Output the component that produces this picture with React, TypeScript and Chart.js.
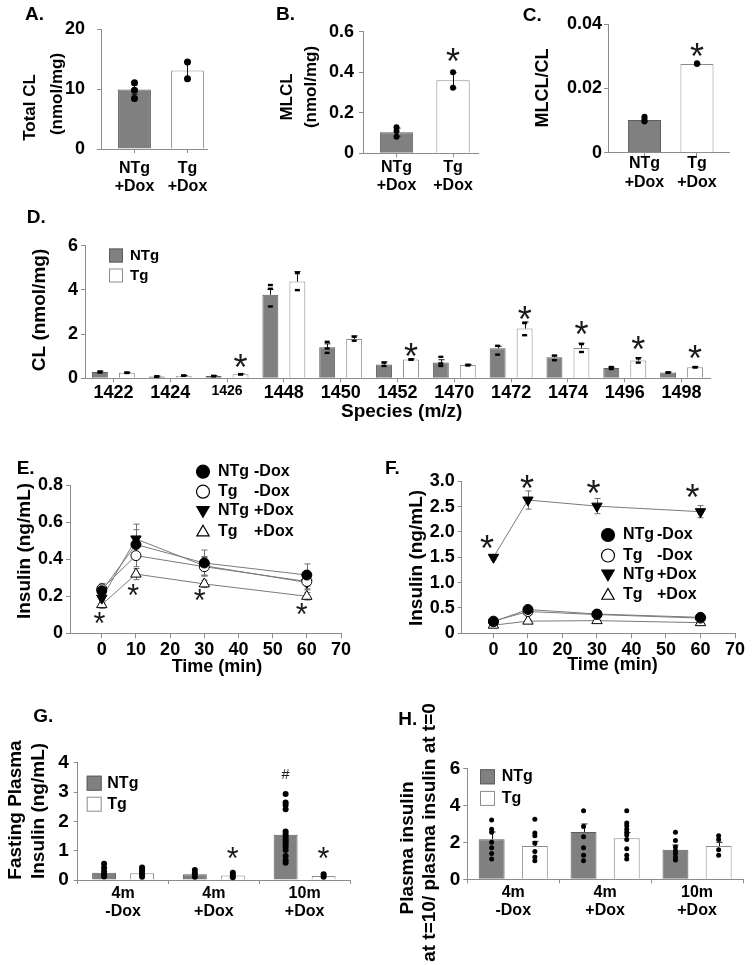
import React, { useEffect, useRef } from 'react';
import { Chart, registerables } from 'chart.js';

Chart.register(...registerables);

const FONT = "'Liberation Sans', Arial, Helvetica, sans-serif";
const AXIS = '#8c8c8c';
const NTG_FILL = '#808080';
const NTG_EDGE = '#5e5e5e';
const TG_FILL = '#ffffff';
const TG_EDGE = '#8c8c8c';

// ===== A–C: cardiolipin =====
const groupLabelsABC = [['NTg', '+Dox'], ['Tg', '+Dox']];

const totalCL = [9.9, 13.1];
const totalCLSem = [0.8, 1.4];
const totalCLPoints = [[11.05, 9.8, 8.4], [14.5, 11.7]];
const ticksA = [0, 10, 20];
const tickLabelsA = ['0', '10', '20'];

const mlcl = [0.104, 0.36];
const mlclSem = [0.02, 0.038];
const mlclPoints = [[0.128, 0.11, 0.082], [0.4, 0.324]];
const ticksB = [0, 0.2, 0.4, 0.6];
const tickLabelsB = ['0', '0.2', '0.4', '0.6'];
const starB = 0.485;

const mlclRatio = [0.0102, 0.0276];
const mlclRatioSem = [0.0006, 0.0002];
const mlclRatioPoints = [[0.0112, 0.0103, 0.0097], [0.0278, 0.0276]];
const ticksC = [0, 0.02, 0.04];
const tickLabelsC = ['0', '0.02', '0.04'];
const starC = 0.0319;

// ===== D: CL species =====
const species = ['1422', '1424', '1426', '1448', '1450', '1452', '1470', '1472', '1474', '1496', '1498'];
const clNTg = [0.28, 0.08, 0.1, 3.78, 1.4, 0.63, 0.71, 1.36, 0.95, 0.47, 0.26];
const clTg = [0.25, 0.12, 0.18, 4.38, 1.78, 0.85, 0.6, 2.25, 1.37, 0.8, 0.5];
const clNTgSem = [0.05, 0.02, 0.02, 0.24, 0.16, 0.11, 0.13, 0.09, 0.07, 0.03, 0.02];
const clTgSem = [0.02, 0.01, 0.02, 0.45, 0.14, 0.03, 0.03, 0.3, 0.22, 0.14, 0.03];
const clNTgPoints = [[0.3, 0.26], [0.09, 0.07], [0.11, 0.09], [4.22, 4.05, 3.25], [1.65, 1.35, 1.15], [0.71, 0.56], [0.97, 0.67, 0.56], [1.47, 1.07], [1.03, 0.82], [0.51, 0.42], [0.27, 0.25]];
const clTgPoints = [[0.26, 0.24], [0.13, 0.11], [0.19, 0.17], [3.99, 4.76], [1.7, 1.88], [0.86, 0.84], [0.61, 0.58], [1.95, 2.5], [1.19, 1.55], [0.71, 0.9], [0.51, 0.49]];
const starIdxD = [2, 5, 7, 8, 9, 10];
const starYD = [0.77, 1.27, 2.96, 2.28, 1.6, 1.17];
const ticksD = [0, 2, 4, 6];
const tickLabelsD = ['0', '2', '4', '6'];

// ===== E / F: insulin time course =====
const times = [0, 10, 30, 60];
const timeTicks = [0, 10, 20, 30, 40, 50, 60, 70];
const timeTickLabels = ['0', '10', '20', '30', '40', '50', '60', '70'];
const legendGroups = ['NTg', 'Tg', 'NTg', 'Tg'];
const legendDox = ['-Dox', '-Dox', '+Dox', '+Dox'];

const eNTgMinus = [0.23, 0.48, 0.38, 0.315];
const eTgMinus = [0.24, 0.42, 0.36, 0.28];
const eNTgPlus = [0.19, 0.51, 0.365, 0.275];
const eTgPlus = [0.155, 0.32, 0.267, 0.2];
const eNTgMinusSem = [0.03, 0.08, 0.07, 0.06];
const eTgMinusSem = [0.03, 0.06, 0.05, 0.04];
const eNTgPlusSem = [0.03, 0.08, 0.05, 0.04];
const eTgPlusSem = [0.02, 0.03, 0.02, 0.02];
const ticksE = [0, 0.2, 0.4, 0.6, 0.8];
const tickLabelsE = ['0', '0.2', '0.4', '0.6', '0.8'];
const starXE = [-0.7, 9.2, 28.7, 58.5];
const starYE = [0.081, 0.234, 0.207, 0.13];

const fNTgMinus = [0.23, 0.47, 0.38, 0.315];
const fTgMinus = [0.24, 0.43, 0.37, 0.3];
const fNTgPlus = [1.5, 2.63, 2.51, 2.4];
const fTgPlus = [0.16, 0.24, 0.25, 0.21];
const fNTgMinusSem = [0.03, 0.04, 0.03, 0.03];
const fTgMinusSem = [0.03, 0.04, 0.03, 0.03];
const fNTgPlusSem = [0.05, 0.18, 0.15, 0.12];
const fTgPlusSem = [0.02, 0.03, 0.03, 0.02];
const ticksF = [0, 0.5, 1, 1.5, 2, 2.5, 3];
const tickLabelsF = ['0', '0.5', '1.0', '1.5', '2.0', '2.5', '3.0'];
const starXF = [-1.9, 9.7, 29, 57.7];
const starYF = [1.81, 2.99, 2.89, 2.81];

// ===== G / H =====
const groupsGH = [['4m', '-Dox'], ['4m', '+Dox'], ['10m', '+Dox']];
const fastNTg = [0.25, 0.2, 1.54];
const fastTg = [0.23, 0.15, 0.14];
const fastNTgPoints = [[0.55, 0.42, 0.3, 0.2, 0.12], [0.34, 0.23, 0.11], [2.93, 2.64, 2.56, 2.41, 1.65, 1.57, 1.48, 1.39, 1.31, 1.23, 1.14, 1.02, 0.82, 0.68, 0.59]];
const fastTgPoints = [[0.43, 0.36, 0.28, 0.2, 0.11], [0.25, 0.17, 0.09], [0.2, 0.11]];
const ticksG = [0, 1, 2, 3, 4];
const tickLabelsG = ['0', '1', '2', '3', '4'];
const starYG = [0.93, 0.93];
const hashYG = 3.6;

const ratioNTg = [2.16, 2.56, 1.6];
const ratioTg = [1.8, 2.22, 1.8];
const ratioNTgSem = [0.4, 0.43, 0.25];
const ratioTgSem = [0.25, 0.3, 0.2];
const ratioNTgPoints = [[3.2, 2.7, 2.55, 2.0, 1.7, 1.4, 1.1], [3.7, 2.85, 2.3, 1.7, 1.3, 1.0], [2.55, 2.1, 1.75, 1.55, 1.4, 1.2, 1.05]];
const ratioTgPoints = [[3.25, 2.5, 2.35, 1.95, 1.5, 1.2, 1.0], [3.7, 3.05, 2.9, 2.7, 2.55, 2.4, 2.15, 1.65, 1.3, 1.1], [2.35, 2.15, 1.6, 1.3]];
const ticksH = [0, 2, 4, 6];
const tickLabelsH = ['0', '2', '4', '6'];

// ===== helpers =====
type Box = [number, number, number, number];
type Txt = { t: string; x: number; y: number; size: number; rot?: boolean; align?: CanvasTextAlign };
type Mark = { ds?: number; i?: number; x?: number; y: number; t: string; h: number };
type Legend = { kind: 'bar' | 'point'; x: number; rows: number[]; textX: number; col2X?: number; size: number; mark: number; parts?: string[][] };
type Extra = { box: Box; texts: Txt[]; marks?: Mark[]; legend?: Legend; errAfter?: boolean };

const val = (d: any) => (typeof d === 'number' ? d : d.y);

function drawErr(chart: any) {
  const ctx = chart.ctx;
  const ys = chart.scales.y;
  chart.data.datasets.forEach((ds: any, d: number) => {
    if (!ds.err) return;
    const meta = chart.getDatasetMeta(d);
    ctx.save();
    ctx.strokeStyle = ds.errColor || '#000';
    ctx.lineWidth = 1;
    meta.data.forEach((el: any, i: number) => {
      const e = ds.err[i];
      if (e == null) return;
      const v = val(ds.data[i]);
      const both = ds.errMode === 'both';
      const hi = ys.getPixelForValue(v + e);
      const lo = ys.getPixelForValue(both ? v - e : v);
      const x = Math.round(el.x) + 0.5;
      const cw = ds.errCap ?? 3;
      ctx.beginPath();
      ctx.moveTo(x, lo);
      ctx.lineTo(x, hi);
      ctx.moveTo(x - cw, hi);
      ctx.lineTo(x + cw, hi);
      if (both) {
        ctx.moveTo(x - cw, lo);
        ctx.lineTo(x + cw, lo);
      }
      ctx.stroke();
    });
    ctx.restore();
  });
}

function drawDots(chart: any) {
  const ctx = chart.ctx;
  const ys = chart.scales.y;
  chart.data.datasets.forEach((ds: any, d: number) => {
    if (!ds.dots) return;
    const meta = chart.getDatasetMeta(d);
    ctx.save();
    ctx.fillStyle = '#000';
    ds.dots.forEach((arr: number[], i: number) => {
      const el = meta.data[i];
      if (!el) return;
      arr.forEach((v) => {
        const y = ys.getPixelForValue(v);
        if (ds.dotShape === 'dash') {
          ctx.fillRect(el.x - 2.5, y - 1.2, 5, 2.4);
        } else {
          ctx.beginPath();
          ctx.arc(el.x, y, ds.dotR || 3, 0, Math.PI * 2);
          ctx.fill();
        }
      });
    });
    ctx.restore();
  });
}

function glyph(ctx: CanvasRenderingContext2D, t: string, cx: number, cy: number, h: number) {
  ctx.font = `normal 100px ${FONT}`;
  const m0 = ctx.measureText(t);
  const h0 = m0.actualBoundingBoxAscent + m0.actualBoundingBoxDescent || 35;
  const size = (100 * h) / h0;
  ctx.font = `normal ${size}px ${FONT}`;
  const m = ctx.measureText(t);
  ctx.textAlign = 'left';
  ctx.textBaseline = 'alphabetic';
  const x = cx - (m.actualBoundingBoxRight - m.actualBoundingBoxLeft) / 2;
  const y = cy + (m.actualBoundingBoxAscent - m.actualBoundingBoxDescent) / 2;
  ctx.fillText(t, x, y);
}

function extras(cfg: Extra) {
  const [bx, by] = cfg.box;
  return {
    id: 'extras',
    beforeDatasetsDraw(chart: any) {
      if (!cfg.errAfter) drawErr(chart);
    },
    afterDatasetsDraw(chart: any) {
      if (cfg.errAfter) drawErr(chart);
      drawDots(chart);
      const ctx = chart.ctx;
      (cfg.marks || []).forEach((m) => {
        const x = m.ds != null ? chart.getDatasetMeta(m.ds).data[m.i as number].x : chart.scales.x.getPixelForValue(m.x);
        const y = chart.scales.y.getPixelForValue(m.y);
        ctx.save();
        ctx.fillStyle = '#1a1a1a';
        glyph(ctx, m.t, x, y, m.h);
        ctx.restore();
      });
    },
    afterDraw(chart: any) {
      const ctx = chart.ctx;
      cfg.texts.forEach((t) => {
        ctx.save();
        ctx.translate(t.x - bx, t.y - by);
        if (t.rot) ctx.rotate(-Math.PI / 2);
        ctx.font = `bold ${t.size}px ${FONT}`;
        ctx.fillStyle = '#000';
        ctx.textAlign = t.align || 'center';
        ctx.textBaseline = 'middle';
        ctx.fillText(t.t, 0, 0);
        ctx.restore();
      });
      const L = cfg.legend;
      if (!L) return;
      chart.data.datasets.forEach((ds: any, k: number) => {
        if (k >= L.rows.length) return;
        const y = L.rows[k] - by;
        const x = L.x - bx;
        ctx.save();
        if (L.kind === 'bar') {
          const s = L.mark;
          ctx.fillStyle = ds.backgroundColor;
          ctx.strokeStyle = ds.borderColor;
          ctx.lineWidth = 1;
          ctx.fillRect(x - s / 2, y - s / 2, s, s);
          ctx.strokeRect(x - s / 2 + 0.5, y - s / 2 + 0.5, s - 1, s - 1);
        } else {
          const r = L.mark;
          ctx.fillStyle = ds.pointBackgroundColor;
          ctx.strokeStyle = ds.pointBorderColor;
          ctx.lineWidth = 1.2;
          ctx.beginPath();
          if (ds.pointStyle === 'circle') {
            ctx.arc(x, y, r, 0, Math.PI * 2);
          } else {
            const dir = ds.pointRotation === 180 ? -1 : 1;
            ctx.moveTo(x, y - dir * r);
            ctx.lineTo(x + r * 0.95, y + dir * r * 0.65);
            ctx.lineTo(x - r * 0.95, y + dir * r * 0.65);
            ctx.closePath();
          }
          ctx.fill();
          ctx.stroke();
        }
        ctx.fillStyle = '#000';
        ctx.font = `bold ${L.size}px ${FONT}`;
        ctx.textAlign = 'left';
        ctx.textBaseline = 'middle';
        if (L.parts) {
          ctx.fillText(L.parts[k][0], L.textX - bx, y);
          ctx.fillText(L.parts[k][1], (L.col2X as number) - bx, y);
        } else {
          ctx.fillText(ds.label, L.textX - bx, y);
        }
        ctx.restore();
      });
    },
  };
}

function frame(box: Box, plot: number[]) {
  return {
    padding: { left: 0, top: plot[1] - box[1], right: box[0] + box[2] - plot[2], bottom: 0 },
    yW: plot[0] - box[0],
    xH: box[1] + box[3] - plot[3],
  };
}

const tickGrid = (len: number, offset = false) => ({
  display: true,
  drawOnChartArea: false,
  drawTicks: true,
  tickLength: len,
  tickColor: AXIS,
  tickWidth: 1,
  offset,
});
const border = { display: true, color: AXIS, width: 1 };

function mkY(vals: number[], labels: string[], width: number, size: number, pad: number, tickLen = 4) {
  return {
    type: 'linear',
    position: 'left',
    min: vals[0],
    max: vals[vals.length - 1],
    afterFit: (s: any) => {
      s.width = width;
    },
    afterBuildTicks: (s: any) => {
      s.ticks = vals.map((v) => ({ value: v }));
    },
    grid: tickGrid(tickLen),
    border,
    ticks: {
      color: '#000',
      padding: pad,
      autoSkip: false,
      font: { family: FONT, size, weight: 'bold' },
      callback: (_v: any, i: number) => labels[i],
    },
  };
}

function mkXLin(min: number, max: number, vals: number[], labels: any[], height: number, size: number, pad: number, tickLen = 4) {
  return {
    type: 'linear',
    position: 'bottom',
    min,
    max,
    offset: false,
    afterFit: (s: any) => {
      s.height = height;
    },
    afterBuildTicks: (s: any) => {
      s.ticks = vals.map((v) => ({ value: v }));
    },
    grid: tickGrid(tickLen),
    border,
    ticks: {
      color: '#000',
      padding: pad,
      autoSkip: false,
      maxRotation: 0,
      minRotation: 0,
      font: { family: FONT, size, weight: 'bold', lineHeight: 1.15 },
      callback: (_v: any, i: number) => labels[i],
    },
  };
}

function mkXCat(height: number, font: any, pad: number, gridOffset: boolean, tickLen = 4) {
  return {
    type: 'category',
    position: 'bottom',
    offset: true,
    afterFit: (s: any) => {
      s.height = height;
    },
    grid: tickGrid(tickLen, gridOffset),
    border,
    ticks: { color: '#000', padding: pad, autoSkip: false, maxRotation: 0, minRotation: 0, font },
  };
}

function base(fr: any, scales: any) {
  return {
    responsive: false,
    animation: false,
    devicePixelRatio: 1,
    events: [],
    layout: { padding: fr.padding },
    plugins: { legend: { display: false }, tooltip: { enabled: false }, title: { display: false } },
    scales,
  };
}

function pairBars(vals: number[], sem: number[], pts: number[][], pct: number, dotR: number) {
  return {
    label: 'value',
    data: vals.map((v, i) => ({ x: i, y: v })),
    backgroundColor: [NTG_FILL, TG_FILL],
    borderColor: [NTG_EDGE, TG_EDGE],
    borderWidth: 1,
    barPercentage: pct,
    categoryPercentage: 1,
    err: sem,
    errMode: 'both',
    errColor: '#111',
    errCap: 3,
    dots: pts,
    dotR,
  };
}

function groupBars(label: string, vals: number[], fill: string, edge: string, extra: any) {
  return { label, data: vals, backgroundColor: fill, borderColor: edge, borderWidth: 1, ...extra };
}

function lineDs(label: string, vals: number[], sem: number[], style: string, rot: number, fill: string) {
  return {
    label,
    data: times.map((t, i) => ({ x: t, y: vals[i] })),
    borderColor: '#7a7a7a',
    borderWidth: 1,
    tension: 0,
    fill: false,
    pointStyle: style,
    pointRotation: rot,
    pointRadius: style === 'triangle' ? 6 : 5,
    pointBackgroundColor: fill,
    pointBorderColor: '#000',
    pointBorderWidth: 1,
    err: sem,
    errMode: 'both',
    errColor: '#6e6e6e',
    errCap: 3,
  };
}

const fontB = (size: number) => ({ family: FONT, size, weight: 'bold', lineHeight: 1.15 });

// ===== panels =====
const boxA: Box = [0, 0, 250, 200];
const frA = frame(boxA, [101, 29, 207, 149]);
const boxB: Box = [250, 0, 250, 200];
const frB = frame(boxB, [363, 31.7, 478, 153.3]);
const boxC: Box = [500, 0, 255, 200];
const frC = frame(boxC, [608, 24, 729, 152.7]);
const boxD: Box = [0, 200, 755, 225];
const frD = frame(boxD, [85, 245.7, 710, 378.3]);
const boxE: Box = [0, 440, 375, 240];
const frE = frame(boxE, [70, 485.3, 341, 633.3]);
const boxF: Box = [375, 440, 380, 240];
const frF = frame(boxF, [461.7, 481.3, 735, 633.3]);
const boxG: Box = [0, 690, 380, 275];
const frG = frame(boxG, [77.7, 762.7, 350, 880]);
const boxH: Box = [380, 690, 375, 275];
const frH = frame(boxH, [467.3, 768.3, 743, 879.3]);

const PANELS: { box: Box; make: () => any }[] = [
  {
    box: boxA,
    make: () => ({
      type: 'bar',
      data: { datasets: [pairBars(totalCL, totalCLSem, totalCLPoints, 0.62, 3.5)] },
      options: base(frA, {
        x: mkXLin(-0.632, 1.368, [0, 1], groupLabelsABC, frA.xH, 16, 6),
        y: mkY(ticksA, tickLabelsA, frA.yW, 18, 12),
      }),
      plugins: [
        extras({
          box: boxA,
          errAfter: true,
          texts: [
            { t: 'A.', x: 25, y: 14.5, size: 19, align: 'left' },
            { t: 'Total CL', x: 30.8, y: 107.5, size: 17, rot: true },
            { t: '(nmol/mg)', x: 57, y: 94, size: 17, rot: true },
          ],
        }),
      ],
    }),
  },
  {
    box: boxB,
    make: () => ({
      type: 'bar',
      data: { datasets: [pairBars(mlcl, mlclSem, mlclPoints, 0.59, 3)] },
      options: base(frB, {
        x: mkXLin(-0.593, 1.442, [0, 1], groupLabelsABC, frB.xH, 16, 1),
        y: mkY(ticksB, tickLabelsB, frB.yW, 18, 5),
      }),
      plugins: [
        extras({
          box: boxB,
          errAfter: true,
          marks: [{ ds: 0, i: 1, y: starB, t: '*', h: 13 }],
          texts: [
            { t: 'B.', x: 276, y: 15, size: 19, align: 'left' },
            { t: 'MLCL', x: 287, y: 97, size: 17, rot: true },
            { t: '(nmol/mg)', x: 311.7, y: 87, size: 17, rot: true },
          ],
        }),
      ],
    }),
  },
  {
    box: boxC,
    make: () => ({
      type: 'bar',
      data: { datasets: [pairBars(mlclRatio, mlclRatioSem, mlclRatioPoints, 0.63, 3)] },
      options: base(frC, {
        x: mkXLin(-0.695, 1.61, [0, 1], groupLabelsABC, frC.xH, 16, -2),
        y: mkY(ticksC, tickLabelsC, frC.yW, 18, 2),
      }),
      plugins: [
        extras({
          box: boxC,
          errAfter: true,
          marks: [{ ds: 0, i: 1, y: starC, t: '*', h: 13 }],
          texts: [
            { t: 'C.', x: 522.7, y: 15.8, size: 19, align: 'left' },
            { t: 'MLCL/CL', x: 543, y: 88, size: 18, rot: true },
          ],
        }),
      ],
    }),
  },
  {
    box: boxD,
    make: () => ({
      type: 'bar',
      data: {
        labels: species,
        datasets: [
          groupBars('NTg', clNTg, NTG_FILL, NTG_EDGE, { barPercentage: 0.59, categoryPercentage: 0.95, err: clNTgSem, errMode: 'up', errColor: '#111', errCap: 3, dots: clNTgPoints, dotShape: 'dash' }),
          groupBars('Tg', clTg, TG_FILL, TG_EDGE, { barPercentage: 0.59, categoryPercentage: 0.95, err: clTgSem, errMode: 'up', errColor: '#111', errCap: 3, dots: clTgPoints, dotShape: 'dash' }),
        ],
      },
      options: base(frD, {
        x: mkXCat(frD.xH, (c: any) => fontB(c.index === 2 ? 14 : 18), 0.7, false),
        y: mkY(ticksD, tickLabelsD, frD.yW, 18, 3),
      }),
      plugins: [
        extras({
          box: boxD,
          errAfter: true,
          marks: starIdxD.map((i, k) => ({ ds: 1, i, y: starYD[k], t: '*', h: 13 })),
          legend: { kind: 'bar', x: 116, rows: [255.5, 275.5], textX: 130, size: 15, mark: 14 },
          texts: [
            { t: 'D.', x: 26.7, y: 217.5, size: 19, align: 'left' },
            { t: 'CL (nmol/mg)', x: 40, y: 310, size: 19, rot: true },
            { t: 'Species (m/z)', x: 401.7, y: 411.7, size: 19 },
          ],
        }),
      ],
    }),
  },
  {
    box: boxE,
    make: () => ({
      type: 'line',
      data: {
        datasets: [
          lineDs('NTg -Dox', eNTgMinus, eNTgMinusSem, 'circle', 0, '#000'),
          lineDs('Tg -Dox', eTgMinus, eTgMinusSem, 'circle', 0, '#fff'),
          lineDs('NTg +Dox', eNTgPlus, eNTgPlusSem, 'triangle', 180, '#000'),
          lineDs('Tg +Dox', eTgPlus, eTgPlusSem, 'triangle', 0, '#fff'),
        ],
      },
      options: base(frE, {
        x: mkXLin(-9.3, 70, timeTicks, timeTickLabels, frE.xH, 18, 1.7, 5),
        y: mkY(ticksE, tickLabelsE, frE.yW, 18, 3),
      }),
      plugins: [
        extras({
          box: boxE,
          marks: starXE.map((x, k) => ({ x, y: starYE[k], t: '*', h: 11 })),
          legend: { kind: 'point', x: 203, rows: [471.7, 491.7, 510.7, 531.7], textX: 218, col2X: 254, size: 16, mark: 6.5, parts: legendGroups.map((g, k) => [g, legendDox[k]]) },
          texts: [
            { t: 'E.', x: 16.7, y: 468.3, size: 19, align: 'left' },
            { t: 'Insulin (ng/mL)', x: 25, y: 551, size: 19, rot: true },
            { t: 'Time (min)', x: 217, y: 667, size: 18 },
          ],
        }),
      ],
    }),
  },
  {
    box: boxF,
    make: () => ({
      type: 'line',
      data: {
        datasets: [
          lineDs('NTg -Dox', fNTgMinus, fNTgMinusSem, 'circle', 0, '#000'),
          lineDs('Tg -Dox', fTgMinus, fTgMinusSem, 'circle', 0, '#fff'),
          lineDs('NTg +Dox', fNTgPlus, fNTgPlusSem, 'triangle', 180, '#000'),
          lineDs('Tg +Dox', fTgPlus, fTgPlusSem, 'triangle', 0, '#fff'),
        ],
      },
      options: base(frF, {
        x: mkXLin(-9.2, 70, timeTicks, timeTickLabels, frF.xH, 18, 1.7, 5),
        y: mkY(ticksF, tickLabelsF, frF.yW, 18, 3),
      }),
      plugins: [
        extras({
          box: boxF,
          marks: starXF.map((x, k) => ({ x, y: starYF[k], t: '*', h: 13 })),
          legend: { kind: 'point', x: 608, rows: [535, 555.5, 574.3, 595], textX: 623, col2X: 657, size: 16, mark: 6.5, parts: legendGroups.map((g, k) => [g, legendDox[k]]) },
          texts: [
            { t: 'F.', x: 385, y: 468.3, size: 19, align: 'left' },
            { t: 'Insulin (ng/mL)', x: 417, y: 558, size: 19, rot: true },
            { t: 'Time (min)', x: 612.5, y: 665.5, size: 18 },
          ],
        }),
      ],
    }),
  },
  {
    box: boxG,
    make: () => ({
      type: 'bar',
      data: {
        labels: groupsGH,
        datasets: [
          groupBars('NTg', fastNTg, NTG_FILL, NTG_EDGE, { barPercentage: 0.63, categoryPercentage: 0.837, dots: fastNTgPoints, dotR: 3 }),
          groupBars('Tg', fastTg, TG_FILL, TG_EDGE, { barPercentage: 0.63, categoryPercentage: 0.837, dots: fastTgPoints, dotR: 3 }),
        ],
      },
      options: base(frG, {
        x: mkXCat(frG.xH, fontB(16), 0, true),
        y: mkY(ticksG, tickLabelsG, frG.yW, 19, 5),
      }),
      plugins: [
        extras({
          box: boxG,
          errAfter: true,
          marks: [
            { ds: 1, i: 1, y: starYG[0], t: '*', h: 11 },
            { ds: 1, i: 2, y: starYG[1], t: '*', h: 11 },
            { ds: 0, i: 2, y: hashYG, t: '#', h: 10 },
          ],
          legend: { kind: 'bar', x: 94.2, rows: [783.2, 804.2], textX: 107.3, size: 16, mark: 15 },
          texts: [
            { t: 'G.', x: 33.3, y: 716.7, size: 19, align: 'left' },
            { t: 'Fasting Plasma', x: 16, y: 810, size: 19, rot: true },
            { t: 'Insulin (ng/mL)', x: 39, y: 811, size: 19, rot: true },
          ],
        }),
      ],
    }),
  },
  {
    box: boxH,
    make: () => ({
      type: 'bar',
      data: {
        labels: groupsGH,
        datasets: [
          groupBars('NTg', ratioNTg, NTG_FILL, NTG_EDGE, { barPercentage: 0.6, categoryPercentage: 0.94, err: ratioNTgSem, errMode: 'up', errColor: '#111', errCap: 3, dots: ratioNTgPoints, dotR: 2.5 }),
          groupBars('Tg', ratioTg, TG_FILL, TG_EDGE, { barPercentage: 0.6, categoryPercentage: 0.94, err: ratioTgSem, errMode: 'up', errColor: '#111', errCap: 3, dots: ratioTgPoints, dotR: 2.5 }),
        ],
      },
      options: base(frH, {
        x: mkXCat(frH.xH, fontB(16), 0, true),
        y: mkY(ticksH, tickLabelsH, frH.yW, 19, 3),
      }),
      plugins: [
        extras({
          box: boxH,
          errAfter: true,
          legend: { kind: 'bar', x: 487.5, rows: [776.8, 798.4], textX: 501.7, size: 16, mark: 15 },
          texts: [
            { t: 'H.', x: 398.3, y: 720, size: 19, align: 'left' },
            { t: 'Plasma insulin', x: 408, y: 848, size: 19, rot: true },
            { t: 'at t=10/ plasma insulin at t=0', x: 430, y: 832.5, size: 19, rot: true },
          ],
        }),
      ],
    }),
  },
];

export default function App() {
  const refs = useRef<(HTMLCanvasElement | null)[]>([]);
  useEffect(() => {
    const charts = PANELS.map((p, k) => new Chart(refs.current[k] as HTMLCanvasElement, p.make()));
    return () => charts.forEach((c) => c.destroy());
  }, []);
  return (
    <div style={{ position: 'absolute', left: 0, top: 0, width: 755, height: 965, background: '#fff', overflow: 'hidden' }}>
      {PANELS.map((p, k) => (
        <canvas
          key={k}
          ref={(el) => {
            refs.current[k] = el;
          }}
          width={p.box[2]}
          height={p.box[3]}
          style={{ position: 'absolute', left: p.box[0], top: p.box[1], width: p.box[2], height: p.box[3] }}
        />
      ))}
    </div>
  );
}
